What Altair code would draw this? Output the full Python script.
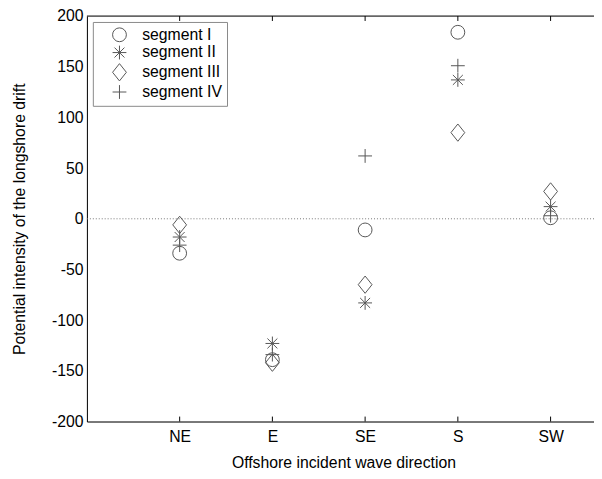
import altair as alt
import pandas as pd

directions = ["NE", "E", "SE", "S", "SW"]
positions = [1, 2, 3, 4, 5]
segments = ["segment I", "segment II", "segment III", "segment IV"]
seg_I = [-34, -139, -11, 184, 1]
seg_II = [-18, -123, -83, 137, 12]
seg_III = [-6, -142, -65, 85, 27]
seg_IV = [-26, -134, 62, 151, 3]
y_ticks = [-200, -150, -100, -50, 0, 50, 100, 150, 200]

rows = []
for name, vals in zip(segments, [seg_I, seg_II, seg_III, seg_IV]):
    for d, p, v in zip(directions, positions, vals):
        rows.append({"segment": name, "direction": d, "pos": p, "value": v})
df = pd.DataFrame(rows)
ticks_df = pd.DataFrame({"pos": positions})

W, H = 514, 411
FONT = "Liberation Sans"
GRAY = "#555555"
FS = 16

xscale = alt.Scale(domain=[0, W / 94.0], nice=False, zero=False)
yscale = alt.Scale(domain=[-200, 200], nice=False)

shape_paths = [
    "circle",
    "M-1,0L1,0M0,-1L0,1M-0.72,-0.72L0.72,0.72M-0.72,0.72L0.72,-0.72",
    "M-1,0L0,-1.25L1,0L0,1.25Z",
    "M-1,0L1,0M0,-1L0,1",
]

points = alt.Chart(df).mark_point(filled=False, size=196, strokeWidth=1, color=GRAY, opacity=1).encode(
    x=alt.X("pos:Q", scale=xscale,
            axis=alt.Axis(values=positions, labelExpr="['','NE','E','SE','S','SW'][datum.value]",
                          ticks=False, grid=False, domainColor="black", labelFontSize=FS,
                          labelColor="black", labelFont=FONT, labelPadding=7,
                          title="Offshore incident wave direction", titleFont=FONT,
                          titleFontSize=FS, titleFontWeight="normal", titleColor="black",
                          titleX=260, titleY=42, titleBaseline="middle")),
    y=alt.Y("value:Q", scale=yscale,
            axis=alt.Axis(values=y_ticks, labelExpr="'' + datum.value", ticks=False, grid=False,
                          domainColor="black",
                          labelFontSize=FS, labelColor="black", labelFont=FONT, labelPadding=4,
                          title="Potential intensity of the longshore drift", titleFont=FONT,
                          titleFontSize=FS, titleFontWeight="normal", titleColor="black",
                          titleX=-68, titleY=H / 2, titleBaseline="middle")),
    shape=alt.Shape("segment:N", scale=alt.Scale(domain=segments, range=shape_paths),
                    legend=alt.Legend(title=None, orient="none", legendX=6, legendY=6,
                                      strokeColor="#888888", fillColor="white", padding=5,
                                      symbolOffset=14, labelOffset=15, symbolSize=196,
                                      symbolStrokeColor=GRAY, symbolStrokeWidth=1,
                                      symbolFillColor="transparent",
                                      labelFont=FONT, labelFontSize=16, labelColor="black",
                                      rowPadding=0, cornerRadius=0)),
)

zero = alt.Chart(pd.DataFrame({"v": [0]})).mark_rule(color="#777777", strokeDash=[1, 2], strokeWidth=1).encode(
    y=alt.Y("v:Q", scale=yscale)
)

top_border = alt.Chart(pd.DataFrame({"v": [0]})).mark_rule(color="black", strokeWidth=1).encode(
    x=alt.value(0), x2=alt.value(W), y=alt.value(0)
)

top_ticks = alt.Chart(ticks_df).mark_rule(color="black", strokeWidth=1).encode(
    x=alt.X("pos:Q", scale=xscale), y=alt.value(0), y2=alt.value(5)
)
bottom_ticks = alt.Chart(ticks_df).mark_rule(color="black", strokeWidth=1).encode(
    x=alt.X("pos:Q", scale=xscale), y=alt.value(H - 5), y2=alt.value(H)
)

chart = alt.layer(zero, top_border, top_ticks, bottom_ticks, points).properties(
    width=W, height=H,
    autosize=alt.AutoSizeParams(type="none"),
    padding={"left": 80, "top": 5, "right": 0, "bottom": 47},
).configure_view(stroke=None).configure(background="white")

chart.save("out.html", embed_options={"renderer": "svg", "actions": False})
